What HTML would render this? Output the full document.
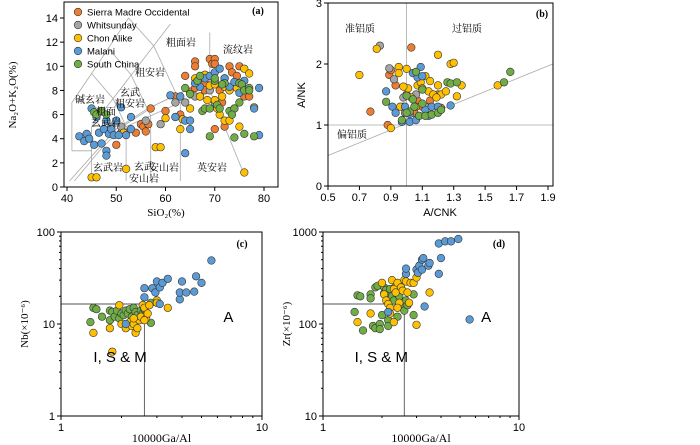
<!DOCTYPE html>
<html><head><meta charset="utf-8"><style>
body{margin:0;background:#fff;}
svg{display:block;font-family:"Liberation Sans","Noto Sans CJK SC",sans-serif;}
.t{font-size:11px;fill:#000;}
.s{font-family:"Liberation Serif","Noto Serif CJK SC",serif;font-size:10px;fill:#000;}
.g{stroke:#aaa;stroke-width:0.8;fill:none;}
.k{stroke:#555;stroke-width:0.9;fill:none;}
</style></head><body>
<svg id="chart" width="700" height="445" viewBox="0 0 700 445">
<g id="pa"></g>
<g id="pb"></g>
<g id="pc"></g>
<g id="pd"></g>
</svg>
<script>
const seriesNames=["Sierra Madre Occidental","Whitsunday","Chon Alike","Malani","South China"];
const seriesColors=["#ED7D31","#A5A5A5","#FFC000","#5B9BD5","#70AD47"];
// Panel a: SiO2 vs Na2O+K2O
const aSMO=[[50,3.5],[51,4.5],[52,4.5],[54,4.5],[55,5.2],[55.5,5],[56,4.6],[56.5,5.2],[57,6.5],[60,6.3],[62,7.5],[63,6],[64,9.2],[65,7.9],[66,10.4],[66,10],[67,7.5],[68,8.6],[69,10.6],[69.5,10.2],[70,10.6],[70,10.2],[71,8],[72,9],[73,10],[73.5,9.5],[74,8.5],[74.5,9.2],[75,10],[75.5,8.5],[76,7.5],[77,7.5],[72,5],[70,4.8],[68,8],[66,8.2],[71.5,7]];
const aWS=[[49,5],[51,5],[56,5.5],[59,5.2],[62,7],[64,7],[66,7.5],[69,8],[70,7]];
const aCA=[[45,0.8],[46,0.8],[52,1.5],[51.5,4.5],[58,3.3],[59,3.3],[60,5.7],[62,5.8],[63,4.8],[63.5,5.6],[65,6.5],[66,9],[67,7.5],[68,9.3],[68.5,7.2],[69,8.4],[70,8.5],[70,7.2],[71,6],[71.5,7.5],[72,8.3],[72,5.5],[73,8],[74,6.5],[75,5],[76,9.8],[76,1.2],[77,9.4],[78,6.6],[73,5.5],[70.5,6.5],[74.5,8.2]];
const aML=[[42.5,4.2],[43.5,3.8],[44,4.4],[44.5,4],[45,6.5],[45.5,3.5],[46,5.8],[46.5,4.5],[47,3.6],[47.5,4.8],[48,5.5],[48,3],[48,2.6],[48.5,4.4],[49,4.8],[49.5,4.3],[50,5.5],[50.5,4.3],[51,6.6],[52,4.3],[53,5.8],[53,4.8],[61,7.6],[62,5.8],[63,7.5],[64,2.8],[64,5.5],[65,5.5],[65,4.8],[67,8.3],[68,9],[69,9.2],[70,9.5],[71,9.8],[72,9],[73,8.3],[75,7.8],[76,8.8],[78,6.5],[79,8.2],[79,4.3],[66,8.6],[74,8.7]];
const aSC=[[45.5,6.2],[46,6],[47,6.3],[48,6],[64,8.2],[65,7.7],[66.5,8.8],[67,9.2],[67.5,6.3],[68,6.5],[69,6.5],[69,4.2],[70,8.8],[70,9],[70.5,6.8],[71,6.5],[72,8.6],[73,6.3],[74,6.5],[74,4.1],[75,8.6],[75.5,8.5],[76,8],[76,4.4],[77,8.2],[77,8],[78,4.2],[73.5,6],[75,7],[71.5,8.5]];
const aXTicks=[40,50,60,70,80];
const aYTicks=[0,2,4,6,8,10,12,14];
// Panel b: A/CNK vs A/NK
const bSMO=[[0.77,1.22],[0.88,1.0],[0.89,1.82],[0.9,1.9],[0.93,1.65],[1.03,2.27],[1.0,1.5],[1.05,1.2],[1.1,1.3],[1.2,1.5],[1.15,1.4],[0.98,1.3],[1.07,1.4],[1.22,1.28]];
const bWS=[[0.83,2.3],[0.89,1.93],[0.92,1.75],[0.98,1.45],[1.06,1.5],[1.12,1.3],[0.99,1.2]];
const bCA=[[0.7,1.82],[0.81,2.25],[0.9,0.95],[0.95,1.95],[0.95,1.85],[1.0,1.92],[1.01,1.6],[1.03,1.45],[1.07,1.65],[1.09,1.7],[1.12,1.8],[1.14,1.55],[1.17,1.5],[1.2,2.15],[1.2,1.65],[1.22,1.5],[1.25,1.55],[1.28,2.0],[1.3,2.02],[1.32,1.47],[1.35,1.65],[1.58,1.65],[1.06,1.3],[1.1,1.6],[0.98,1.63],[1.15,1.72],[1.19,1.45],[0.96,1.3],[1.08,1.15]];
const bML=[[0.87,1.55],[0.91,1.3],[0.93,1.2],[0.97,1.05],[0.99,1.3],[1.02,1.05],[1.04,1.85],[1.07,1.78],[1.09,1.95],[1.1,1.8],[1.06,1.08],[1.12,1.25],[1.16,1.3],[1.2,1.3],[1.28,1.32],[1.02,1.18],[1.14,1.15]];
const bSC=[[0.87,1.38],[0.97,1.08],[1.0,1.48],[1.02,1.22],[1.04,1.42],[1.05,1.3],[1.06,1.87],[1.08,1.15],[1.1,1.58],[1.12,1.15],[1.16,1.17],[1.2,1.2],[1.22,1.25],[1.26,1.7],[1.28,1.68],[1.32,1.7],[1.62,1.7],[1.66,1.87],[1.0,1.2],[1.1,1.35]];
const bXTicks=[0.5,0.7,0.9,1.1,1.3,1.5,1.7,1.9];
const bYTicks=[0,1,2,3];
// Panel c: Ga/Al vs Nb
const cCA=[[1.45,8],[1.75,9],[1.8,5],[1.95,16],[2.0,10],[2.1,9],[2.2,10.5],[2.25,9.5],[2.3,10],[2.35,8],[2.4,9],[2.45,11],[2.5,12],[2.55,16],[2.6,15],[2.65,11.5],[2.7,13],[2.75,16],[3.0,18],[3.0,17],[3.4,15],[2.3,11.5],[2.6,11]];
const cSC=[[1.4,10.5],[1.45,15],[1.5,14.5],[1.6,12],[1.75,11],[1.75,14],[1.8,13.5],[1.85,12],[1.9,14],[1.95,11.5],[2.0,13],[2.05,12.5],[2.1,14],[2.15,13],[2.2,14.5],[2.25,12],[2.3,15],[2.35,13.5],[2.4,12.5],[2.5,14],[2.55,13],[2.8,17],[2.8,10.3],[2.6,14.5]];
const cML=[[2.1,10],[2.6,19.5],[2.6,24.5],[2.85,24.5],[2.95,22],[3.0,29],[3.1,25],[3.2,28],[3.1,16.5],[3.4,31],[3.9,18.5],[3.9,22],[4.0,29],[4.2,22],[4.6,22.5],[4.7,33],[5.0,28],[5.6,49]];
const cYTicks=[1,10,100];
// Panel d: Ga/Al vs Zr
const dSC=[[1.45,135],[1.5,205],[1.55,200],[1.6,85],[1.75,210],[1.75,190],[1.8,95],[1.85,250],[1.85,90],[1.9,260],[1.95,100],[1.95,88],[2.0,125],[2.05,250],[2.05,215],[2.1,235],[2.15,110],[2.15,95],[2.2,195],[2.25,200],[2.3,180],[2.35,260],[2.4,120],[2.45,200],[2.5,165],[2.6,140],[2.65,180],[2.7,160],[2.9,210],[2.9,125],[2.2,240]];
const dCA=[[1.5,105],[1.75,130],[2.0,280],[2.05,210],[2.1,180],[2.15,165],[2.2,150],[2.25,300],[2.3,240],[2.35,220],[2.4,280],[2.45,170],[2.5,250],[2.55,230],[2.6,300],[2.65,290],[2.7,220],[2.75,170],[2.8,280],[2.9,280],[3.0,320],[3.0,98],[3.5,220],[2.3,105],[2.4,150],[2.2,130]];
const dML=[[2.15,135],[2.65,350],[2.65,400],[3.0,390],[3.05,360],[3.1,430],[3.2,390],[3.2,500],[3.25,520],[3.3,155],[3.45,430],[3.5,460],[3.9,750],[3.9,350],[4.0,520],[4.2,790],[4.5,790],[4.9,840],[5.6,112]];
const dYTicks=[10,100,1000];
const logXTicks=[1,10];

const NS="http://www.w3.org/2000/svg";
function mk(p,tag,at){const e=document.createElementNS(NS,tag);for(const k in at)e.setAttribute(k,at[k]);p.appendChild(e);return e;}
function txt(p,x,y,s,cls,anchor,name){const e=mk(p,'text',{x:x,y:y,'class':cls,'text-anchor':anchor||'middle'});e.textContent=s;


return e;}
function linScale(d0,d1,r0,r1){return v=>r0+(v-d0)/(d1-d0)*(r1-r0);}
function logScale(d0,d1,r0,r1){return v=>r0+(Math.log10(v)-Math.log10(d0))/(Math.log10(d1)-Math.log10(d0))*(r1-r0);}
function frame(g,x0,y0,x1,y1){const r=mk(g,'rect',{x:x0,y:y0,width:x1-x0,height:y1-y0,fill:'none',stroke:'#000','stroke-width':1});

}
function line(g,pts,X,Y,name,cls){const d=pts.map((p,i)=>(i?'L':'M')+X(p[0]).toFixed(1)+','+Y(p[1]).toFixed(1)).join('');
const e=mk(g,'path',{d:d,'class':cls||'g'});

}
function dots(g,data,X,Y,ci,name){const gg=mk(g,'g',{});


data.forEach(p=>{const c=mk(gg,'circle',{cx:X(p[0]).toFixed(1),cy:Y(p[1]).toFixed(1),r:3.8,fill:seriesColors[ci],stroke:'#333','stroke-width':0.6});

});}
function xticks(g,ticks,X,yb,fmt){ticks.forEach(t=>{mk(g,'line',{x1:X(t),x2:X(t),y1:yb,y2:yb+4,stroke:'#000'});txt(g,X(t),yb+15,fmt?fmt(t):String(t),'t','middle','x-tick-label');});}
function yticks(g,ticks,Y,xl){ticks.forEach(t=>{mk(g,'line',{x1:xl-4,x2:xl,y1:Y(t),y2:Y(t),stroke:'#000'});txt(g,xl-6,Y(t)+4,String(t),'t','end','y-tick-label');});}
function logMinor(g,X,Y,xr,yr,x0,y0){for(let dcd=xr[0];dcd<xr[1];dcd*=10)for(let k=2;k<10;k++){const x=X(dcd*k);mk(g,'line',{x1:x,x2:x,y1:y0,y2:y0+2,stroke:'#000'});}
for(let dcd=yr[0];dcd<yr[1];dcd*=10)for(let k=2;k<10;k++){const y=Y(dcd*k);mk(g,'line',{x1:x0-2,x2:x0,y1:y,y2:y,stroke:'#000'});}}
function ylabel(g,x,y,s,name){const e=txt(g,x,y,s,'s','middle',name);e.setAttribute('transform','rotate(-90 '+x+' '+y+')');e.style.fontSize='11px';return e;}

// ---------- Panel A
(function(){const g=document.getElementById('pa');
const X=linScale(40,80,67,264),Y=linScale(0,14,187,18);
const bl=[[[41,3],[41,7],[45,9.4],[48.4,11.5],[52.5,14]],[[41,3],[45,3]],[[45,0.5],[45,5],[61,13.5]],[[45,5],[52,5],[57,5.9],[63,7],[69,8]],[[52,0.5],[52,5]],[[57,0.5],[57,5.9]],[[63,0.5],[63,7]],[[52,5],[49.4,7.3],[45,9.4]],[[57,5.9],[53,9.3],[48.4,11.5]],[[63,7],[57.6,11.7],[52.5,14]],[[69,8],[69,12.8]],[[69,8],[76,1]]];
bl.forEach(p=>line(g,p,X,Y,'tas-boundary'));
line(g,[[40.5,0.5],[46,3],[50,4.8],[56,6.4],[62,7.6],[70,9]],X,Y,'alkaline-subalkaline-curve','g');
line(g,[[41.5,0.5],[47,3.2],[52,5.2],[58,6.8],[65,8.2]],X,Y,'irvine-curve','g');
[aSMO,aWS,aCA,aML,aSC].forEach((d,i)=>dots(g,d,X,Y,i,'series-'+i+'-points'));
frame(g,64,2,278,187);
xticks(g,aXTicks,X,187);yticks(g,aYTicks,Y,64);
const L=[['碱玄岩',90,103],['粗面',106,115],['玄武岩',106,126],['玄武',130,96],['粗安岩',130,107],['粗安岩',150,76],['粗面岩',181,46],['流纹岩',238,53],['玄武岩',108,171],['玄武',144,170],['安山岩',144,182],['安山岩',164,171],['英安岩',212,171]];
L.forEach(l=>txt(g,l[1],l[2],l[0],'s','middle','rock-field-label'));
txt(g,258,14,'(a)','s','middle','panel-a-label').style.fontWeight='bold';
const lg=mk(g,'g',{});


seriesNames.forEach((n,i)=>{const y=12+i*13;mk(lg,'circle',{cx:78,cy:y,r:3.8,fill:seriesColors[i],stroke:'#333','stroke-width':0.6});const t=txt(lg,87,y+3.5,n,'t','start','legend-entry');t.style.fontSize='9.5px';});
ylabel(g,16,95,'Na₂O+K₂O(%)','y-axis-title');
txt(g,166,216,'SiO₂(%)','s','middle','x-axis-title').style.fontSize='11px';
})();
// ---------- Panel B
(function(){const g=document.getElementById('pb');
const X=linScale(0.5,1.9,328,548),Y=linScale(0,3,186,3);
line(g,[[1,0],[1,3]],X,Y,'acnk-1-line');line(g,[[0.5,1],[1.93,1]],X,Y,'ank-1-line');line(g,[[0.5,0.5],[1.93,2.0]],X,Y,'metaluminous-line');
[bSMO,bWS,bCA,bML,bSC].forEach((d,i)=>dots(g,d,X,Y,i,'series-'+i+'-points'));
frame(g,328,3,553,186);
xticks(g,bXTicks,X,186,t=>t.toFixed(1));yticks(g,bYTicks,Y,328);
txt(g,360,32,'准铝质','s','middle','metaluminous-label');txt(g,467,32,'过铝质','s','middle','peraluminous-label');txt(g,352,138,'偏铝质','s','middle','metaluminous-low-label');
txt(g,542,17,'(b)','s','middle','panel-b-label').style.fontWeight='bold';
ylabel(g,305,95,'A/NK','y-axis-title').setAttribute('class','t');
txt(g,440,216,'A/CNK','t','middle','x-axis-title');
})();
// ---------- Panel C & D
function logPanel(gid,x0,x1,y0,y1,ymin,ymax,sets,yT,lab,yl,ylx,hval){const g=document.getElementById(gid);
const X=logScale(1,10,x0,x1),Y=logScale(ymin,ymax,y1,y0);
line(g,[[1,hval],[2.6,hval],[2.6,ymin]],X,Y,'discrimination-line','k');
sets.forEach(s=>dots(g,s[0],X,Y,s[1],'series-'+s[1]+'-points'));
frame(g,x0,y0,x1,y1);logMinor(g,X,Y,[1,10],[ymin,ymax],x0,y1);
xticks(g,logXTicks,X,y1);yticks(g,yT,Y,x0);
txt(g,X(1.45),362,'I, S & M','t','start','ism-field-label').style.fontSize='15px';
txt(g,X(6.8),322,'A','t','middle','a-type-field-label').style.fontSize='15px';
txt(g,x1-20,247,lab,'s','middle','panel-label').style.fontWeight='bold';
ylabel(g,ylx,324,yl,'y-axis-title');
txt(g,(x0+x1)/2,442,'10000Ga/Al','s','middle','x-axis-title').style.fontSize='12px';}
logPanel('pc',61,262,232,416,1,100,[[cSC,4],[cCA,2],[cML,3]],cYTicks,'(c)','Nb(×10⁻⁶)',28,16.5);
logPanel('pd',323,519,232,416,10,1000,[[dSC,4],[dCA,2],[dML,3]],dYTicks,'(d)','Zr(×10⁻⁶)',290,165);
</script>
</body></html>
